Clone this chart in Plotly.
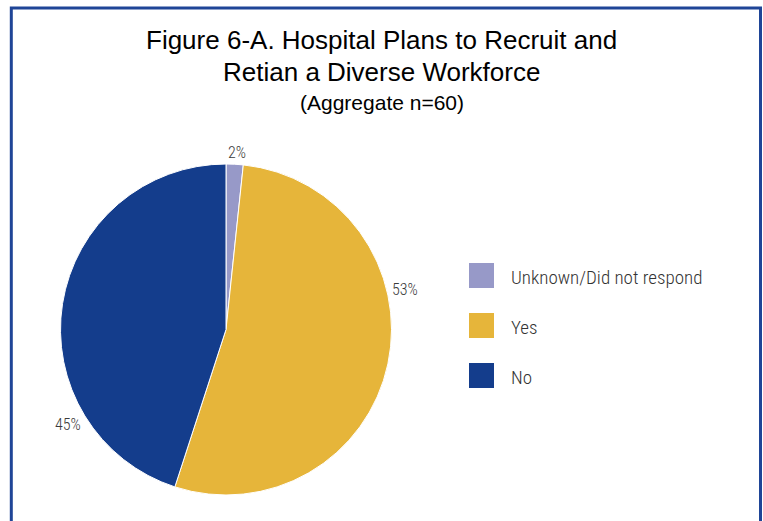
import plotly.graph_objects as go

# ---- data ----
labels = ["Unknown/Did not respond", "Yes", "No"]
values = [1, 32, 27]
colors = ["#9799c8", "#e6b53a", "#143d8c"]

title_lines = ["Figure 6-A. Hospital Plans to Recruit and", "Retian a Diverse Workforce"]
subtitle = "(Aggregate n=60)"

# ---- styling / layout (pixel positions in a 763x521 canvas) ----
W, H = 763, 521
NARROW = "Roboto Condensed, DejaVu Sans Condensed, sans-serif"
SANS = "Liberation Sans, Arial, Helvetica, sans-serif"
label_pos = [(236.5, 152), (405, 289), (68, 424.5)]   # percent label centres
legend_x0, legend_y0, legend_step, sq = 469, 263, 50, 25

def px(x):
    return x / W

def py(y):
    return 1 - y / H

fig = go.Figure(go.Pie(
    labels=labels,
    values=values,
    marker=dict(colors=colors, line=dict(color="white", width=1)),
    sort=False,
    direction="clockwise",
    rotation=0,
    textinfo="none",
    hoverinfo="label+percent",
    showlegend=False,
    domain=dict(x=[px(60), px(392)], y=[py(495), py(164)]),
))

annotations = []
shapes = []

# title
annotations.append(dict(text=title_lines[0], x=0.5, y=py(39.5), xref="paper", yref="paper",
                        showarrow=False, xanchor="center", yanchor="middle",
                        font=dict(family=SANS, size=26, color="#000000")))
annotations.append(dict(text=title_lines[1], x=0.5, y=py(71.5), xref="paper", yref="paper",
                        showarrow=False, xanchor="center", yanchor="middle",
                        font=dict(family=SANS, size=26, color="#000000")))
annotations.append(dict(text=subtitle, x=0.5, y=py(102), xref="paper", yref="paper",
                        showarrow=False, xanchor="center", yanchor="middle",
                        font=dict(family=SANS, size=21, color="#000000")))

# percent labels
total = sum(values)
for v, (lx, ly) in zip(values, label_pos):
    annotations.append(dict(text=f"{round(v / total * 100)}%", x=px(lx), y=py(ly),
                            xref="paper", yref="paper", showarrow=False,
                            xanchor="center", yanchor="middle",
                            font=dict(family=NARROW, size=16, color="#3a3a3a", weight=300)))

# custom legend
for i, (lab, col) in enumerate(zip(labels, colors)):
    y0 = legend_y0 + i * legend_step
    shapes.append(dict(type="rect", xref="paper", yref="paper",
                       x0=px(legend_x0), x1=px(legend_x0 + sq),
                       y0=py(y0 + sq), y1=py(y0),
                       fillcolor=col, line=dict(width=0)))
    annotations.append(dict(text=lab, x=px(509), y=py(y0 + sq / 2 + 2),
                            xref="paper", yref="paper", showarrow=False,
                            xanchor="left", yanchor="middle",
                            font=dict(family=NARROW, size=19, color="#333333", weight=300)))

# frame border (open at the bottom, runs off the canvas)
shapes.append(dict(type="rect", xref="paper", yref="paper",
                   x0=px(11.3), x1=px(760.5), y0=-0.2, y1=py(8),
                   line=dict(color="#1f4597", width=3), fillcolor="rgba(0,0,0,0)"))

fig.update_layout(
    width=W, height=H,
    margin=dict(l=0, r=0, t=0, b=0),
    paper_bgcolor="white",
    plot_bgcolor="white",
    annotations=annotations,
    shapes=shapes,
)

fig.write_html("out.html", config={"displayModeBar": False},
               post_script="document.body.style.margin='0';")
